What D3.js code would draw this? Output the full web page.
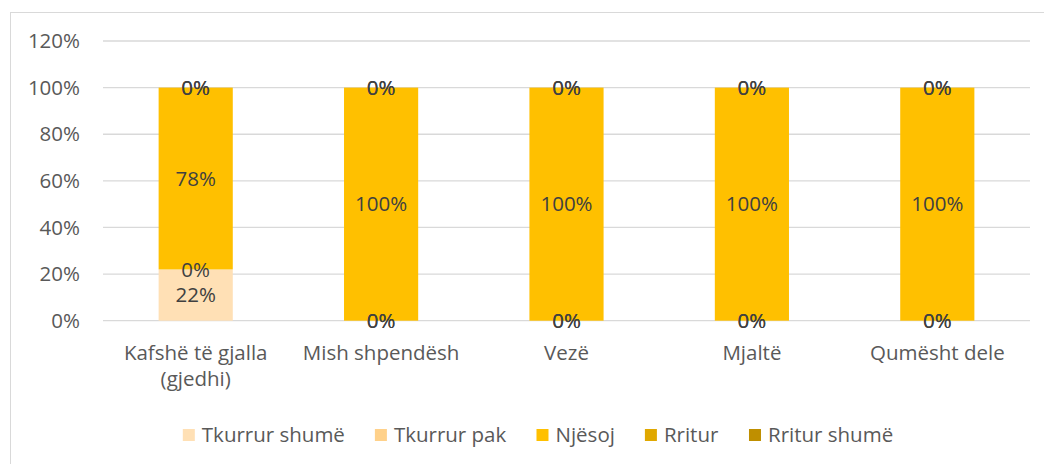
<!DOCTYPE html>
<html>
<head>
    <meta charset="utf-8">
    <title>Stacked bars</title>
    <script src="https://cdn.jsdelivr.net/npm/d3@7"></script>
    <style>
        body { margin: 0; background: #fff; }
        text { font-family: "Open Sans", sans-serif; }
    </style>
</head>
<body>
<script>
        var categories = ["Kafshë të gjalla (gjedhi)", "Mish shpendësh", "Vezë", "Mjaltë", "Qumësht dele"];
        var seriesNames = ["Tkurrur shumë", "Tkurrur pak", "Njësoj", "Rritur", "Rritur shumë"];
        var seriesColors = ["#ffe0b5", "#ffd18a", "#ffc000", "#e0a800", "#bf8f00"];
        var tkurrurShume = [22, 0, 0, 0, 0];
        var tkurrurPak = [0, 0, 0, 0, 0];
        var njesoj = [78, 100, 100, 100, 100];
        var rritur = [0, 0, 0, 0, 0];
        var rriturShume = [0, 0, 0, 0, 0];
        var yTicks = [0, 20, 40, 60, 80, 100, 120];

        var width = 1044, height = 464;
        var plotLeft = 103, plotRight = 1030, plotTop = 41, plotBottom = 320.7;

        var svg = d3.select("body").append("svg")
            .attr("width", width)
            .attr("height", height);

        // chart border (right/bottom edges are cut off in the original)
        svg.append("rect")
            .attr("x", 10.5).attr("y", 12.5)
            .attr("width", 1100).attr("height", 500)
            .attr("fill", "#fff")
            .attr("stroke", "#d9d9d9");

        var x = d3.scaleBand()
            .domain(categories)
            .range([plotLeft, plotRight])
            .paddingInner(0.6)
            .paddingOuter(0.3);

        var y = d3.scaleLinear()
            .domain([0, 120])
            .range([plotBottom, plotTop]);

        // gridlines
        svg.append("g").selectAll("line")
            .data(yTicks)
            .join("line")
            .attr("x1", plotLeft).attr("x2", plotRight)
            .attr("y1", d => y(d)).attr("y2", d => y(d))
            .attr("stroke", "#d9d9d9")
            .attr("stroke-width", 1.3);

        // y axis labels
        var yAxis = svg.append("g")
            .attr("transform", "translate(" + (plotLeft - 23) + ",0)")
            .call(d3.axisLeft(y).tickValues(yTicks).tickFormat(d => d + "%").tickSize(0).tickPadding(0));
        yAxis.select(".domain").remove();
        yAxis.selectAll("text")
            .attr("fill", "#595959")
            .style("font-size", "20.5px")
            .style("font-family", "Open Sans");

        // stacked data
        var rows = categories.map(function (c, i) {
            return {
                cat: c,
                "Tkurrur shumë": tkurrurShume[i],
                "Tkurrur pak": tkurrurPak[i],
                "Njësoj": njesoj[i],
                "Rritur": rritur[i],
                "Rritur shumë": rriturShume[i]
            };
        });
        var stacked = d3.stack().keys(seriesNames)(rows);
        var color = d3.scaleOrdinal().domain(seriesNames).range(seriesColors);

        var layers = svg.append("g").selectAll("g")
            .data(stacked)
            .join("g")
            .attr("fill", d => color(d.key));

        layers.selectAll("rect")
            .data(d => d)
            .join("rect")
            .attr("x", d => x(d.data.cat))
            .attr("width", x.bandwidth())
            .attr("y", d => y(d[1]))
            .attr("height", d => y(d[0]) - y(d[1]));

        // data labels
        var labels = svg.append("g");
        stacked.forEach(function (layer) {
            labels.append("g").selectAll("text")
                .data(layer)
                .join("text")
                .attr("x", d => x(d.data.cat) + x.bandwidth() / 2)
                .attr("y", d => y((d[0] + d[1]) / 2))
                .attr("dy", "0.35em")
                .attr("text-anchor", "middle")
                .attr("fill", "#404040")
                .style("font-size", "20.5px")
                .text(d => (d[1] - d[0]) + "%");
        });

        // category labels, wrapped to the band step
        var labelY = 39, lineH = 26;
        var xAxis = svg.append("g")
            .attr("transform", "translate(0," + plotBottom + ")")
            .call(d3.axisBottom(x).tickSize(0).tickPadding(0));
        xAxis.select(".domain").remove();
        xAxis.selectAll("text")
            .attr("fill", "#595959")
            .style("font-size", "20.5px")
            .style("font-family", "Open Sans")
            .attr("y", labelY)
            .attr("dy", 0)
            .each(function (d) {
                var t = d3.select(this);
                var words = d.split(" ");
                t.text(null);
                var line = [];
                var lineNo = 0;
                var tspan = t.append("tspan").attr("x", 0).attr("y", labelY);
                words.forEach(function (w) {
                    line.push(w);
                    tspan.text(line.join(" "));
                    if (tspan.node().getComputedTextLength() > x.step() - 10 && line.length > 1) {
                        line.pop();
                        tspan.text(line.join(" "));
                        line = [w];
                        lineNo++;
                        tspan = t.append("tspan").attr("x", 0).attr("y", labelY + lineNo * lineH).text(w);
                    }
                });
            });

        // legend, centred in the chart area
        var legend = svg.append("g");
        var items = legend.selectAll("g")
            .data(seriesNames)
            .join("g");
        items.append("rect")
            .attr("width", 12).attr("height", 12)
            .attr("y", -6)
            .attr("fill", d => color(d));
        items.append("text")
            .attr("x", 19)
            .attr("dy", "0.35em")
            .attr("fill", "#595959")
            .style("font-size", "20.5px")
            .text(d => d);
        var pos = 0;
        items.each(function () {
            var w = this.getBBox().width;
            d3.select(this).attr("transform", "translate(" + pos + ",0)");
            pos += w + 30;
        });
        var total = pos - 30;
        legend.attr("transform", "translate(" + (538 - total / 2) + ",435)");
</script>
</body>
</html>
